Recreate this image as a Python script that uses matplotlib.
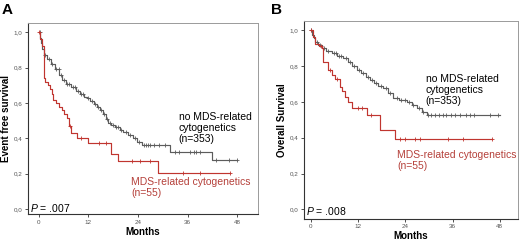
import numpy as np
import matplotlib
matplotlib.use("Agg")
import matplotlib.pyplot as plt

plt.rcParams['font.family'] = ['Liberation Sans', 'DejaVu Sans']
plt.rcParams['mathtext.fontset'] = 'custom'
plt.rcParams['mathtext.it'] = 'Liberation Sans:italic'
plt.rcParams['mathtext.rm'] = 'Liberation Sans'

# ---------------- data ----------------
# Panel A: event free survival
a_gray_t = [0, 0.3, 0.6, 0.9, 1.3, 2, 3, 4, 5, 5.6, 6.5, 7.8, 9, 10, 11, 11.6, 12.5, 13.3, 14, 14.8,
            15.5, 16.2, 16.8, 17.6, 18.5, 19.6, 20.5, 21.5, 22.9, 23.8, 24.9, 31.7, 41.8]
a_gray_s = [1.0, 0.97, 0.94, 0.905, 0.87, 0.85, 0.82, 0.79, 0.76, 0.73, 0.71, 0.69, 0.67, 0.65, 0.635,
            0.626, 0.61, 0.595, 0.58, 0.56, 0.535, 0.51, 0.485, 0.475, 0.462, 0.45, 0.435, 0.42, 0.40,
            0.38, 0.362, 0.324, 0.28]
a_gray_end = 48
a_gray_cens = [0.2, 1.5, 2.5, 3.3, 4.2, 4.8, 5.3, 6, 6.8, 7.3, 8.2, 8.8, 9.5, 10.3, 10.8, 12, 12.8, 13.6,
               14.3, 15, 15.8, 16.5, 17.2, 18, 18.8, 19.2, 20, 21, 22, 23.3, 24.3, 25.5, 26, 26.5, 27,
               28, 29, 30.5, 33, 34, 36.5, 37.5, 38, 39, 43, 46, 48]

a_red_t = [0, 0.4, 0.8, 1.3, 1.6, 2.2, 2.7, 3.1, 3.5, 4.2, 4.9, 5.6, 6.2, 6.8, 7.3, 7.8, 9.2, 12,
           17.6, 19.2, 28.9]
a_red_s = [1.0, 0.96, 0.92, 0.74, 0.72, 0.70, 0.68, 0.65, 0.617, 0.6, 0.58, 0.56, 0.535, 0.513, 0.47,
           0.43, 0.40, 0.375, 0.31, 0.27, 0.205]
a_red_end = 46.2
a_red_cens = [0.1, 7.5, 10.2, 14.5, 16.3, 22.5, 24.5, 26.9, 34.9, 39, 46.2]

# Panel B: overall survival
b_gray_t = [0, 0.4, 0.8, 1.1, 1.8, 2.8, 4, 5.3, 6.8, 8.3, 9.5, 10.6, 11.7, 12.8, 14, 15, 16, 17.2,
            18.4, 19.5, 21, 22.5, 24.4, 25.6, 26.9, 28.2, 29.4]
b_gray_s = [1.0, 0.975, 0.955, 0.935, 0.915, 0.898, 0.885, 0.87, 0.855, 0.842, 0.82, 0.80, 0.777,
            0.76, 0.74, 0.72, 0.705, 0.69, 0.675, 0.65, 0.62, 0.61, 0.60, 0.58, 0.563, 0.545, 0.526]
b_gray_end = 48
b_gray_cens = [0.2, 1.5, 2.3, 3.5, 4.5, 5.8, 6.5, 7.2, 7.8, 9, 10, 11, 12.3, 13.2, 14.5, 15.5, 16.5,
               17.8, 19, 20, 22, 23, 24, 25, 26, 27.5, 28.5, 29.8, 30.5, 31.5, 32.5, 33.5, 34.3,
               35.5, 36.5, 38, 39.5, 40.5, 41.5, 45.5, 47.5]

b_red_t = [0, 0.5, 1.1, 2.0, 2.8, 3.2, 4.5, 5.3, 6.2, 7.4, 8.0, 8.7, 9.5, 10.4, 14.2, 17.6, 21.4]
b_red_s = [1.0, 0.96, 0.92, 0.91, 0.898, 0.823, 0.777, 0.75, 0.73, 0.684, 0.66, 0.628, 0.6, 0.563,
           0.526, 0.442, 0.39]
b_red_end = 45.9
b_red_cens = [0.1, 2.5, 5, 6.8, 12, 13, 15.3, 22.7, 24, 26.5, 27.7, 34.9, 38.7, 45.9]

x_ticks = [0, 12, 24, 36, 48]
y_ticks = [0.0, 0.2, 0.4, 0.6, 0.8, 1.0]
y_ticklabels = ["0,0", "0,2", "0,4", "0,6", "0,8", "1,0"]

GRAY = "#5c5c5c"
RED = "#c0352f"
RED_TXT = "#b5403a"

fig = plt.figure(figsize=(5.2, 2.44), dpi=100)


def km(ax, t, s, end, cens, color):
    t = np.asarray(t, float)
    s = np.asarray(s, float)
    tt = np.append(t, end)
    ss = np.append(s, s[-1])
    ax.step(tt, ss, where='post', color=color, lw=0.85)
    c = np.asarray(cens, float)
    idx = np.searchsorted(t, c, side='right') - 1
    ax.plot(c, s[idx], ls='none', marker='+', ms=2.6, mew=0.6, color=color)


def style(ax, xlim, ylim, ylabel):
    ax.set_xlim(*xlim)
    ax.set_ylim(*ylim)
    ax.set_xticks(x_ticks)
    ax.set_xticklabels([str(v) for v in x_ticks])
    ax.set_yticks(y_ticks)
    ax.set_yticklabels(y_ticklabels)
    ax.tick_params(labelsize=4.5, labelcolor="#555555", length=2.5, width=0.6, color="#333333", pad=1.5)
    for sp in ['left', 'bottom']:
        ax.spines[sp].set_color('#333333')
        ax.spines[sp].set_linewidth(0.8)
    for sp in ['top', 'right']:
        ax.spines[sp].set_color('#9a9a9a')
        ax.spines[sp].set_linewidth(0.7)
    ax.set_xlabel("Months", fontsize=7, fontweight='bold', labelpad=1.5)
    ax.set_ylabel(ylabel, fontsize=7, fontweight='bold', labelpad=2)


# Panel A
axA = fig.add_axes([0.0538, 0.123, 0.442, 0.783])
km(axA, a_gray_t, a_gray_s, a_gray_end, a_gray_cens, GRAY)
km(axA, a_red_t, a_red_s, a_red_end, a_red_cens, RED)
style(axA, (-2.6, 53), (-0.028, 1.053), "Event free survival")
axA.text(33.9, 0.55, "no MDS-related\ncytogenetics\n(n=353)", fontsize=7.5, color="black",
         va='top', ha='left', linespacing=1.15)
axA.text(22.3, 0.18, "MDS-related cytogenetics\n(n=55)", fontsize=7.5, color=RED_TXT,
         va='top', ha='left', linespacing=1.15)
axA.text(-2.0, -0.028, "$P$ = .007", fontsize=7.5, va='bottom', ha='left')
fig.text(0.003, 0.93, "A", fontsize=11, fontweight='bold', va='bottom', ha='left')

# Panel B
axB = fig.add_axes([0.5846, 0.1037, 0.4115, 0.811])
km(axB, b_gray_t, b_gray_s, b_gray_end, b_gray_cens, GRAY)
km(axB, b_red_t, b_red_s, b_red_end, b_red_cens, RED)
style(axB, (-1.7, 52.6), (-0.052, 1.052), "Overall Survival")
axB.text(29.2, 0.755, "no MDS-related\ncytogenetics\n(n=353)", fontsize=7.5, color="black",
         va='top', ha='left', linespacing=1.15)
axB.text(22.0, 0.33, "MDS-related cytogenetics\n(n=55)", fontsize=7.5, color=RED_TXT,
         va='top', ha='left', linespacing=1.15)
axB.text(-1.2, -0.045, "$P$ = .008", fontsize=7.5, va='bottom', ha='left')
fig.text(0.522, 0.93, "B", fontsize=11, fontweight='bold', va='bottom', ha='left')

fig.savefig("out.png", dpi=100)
